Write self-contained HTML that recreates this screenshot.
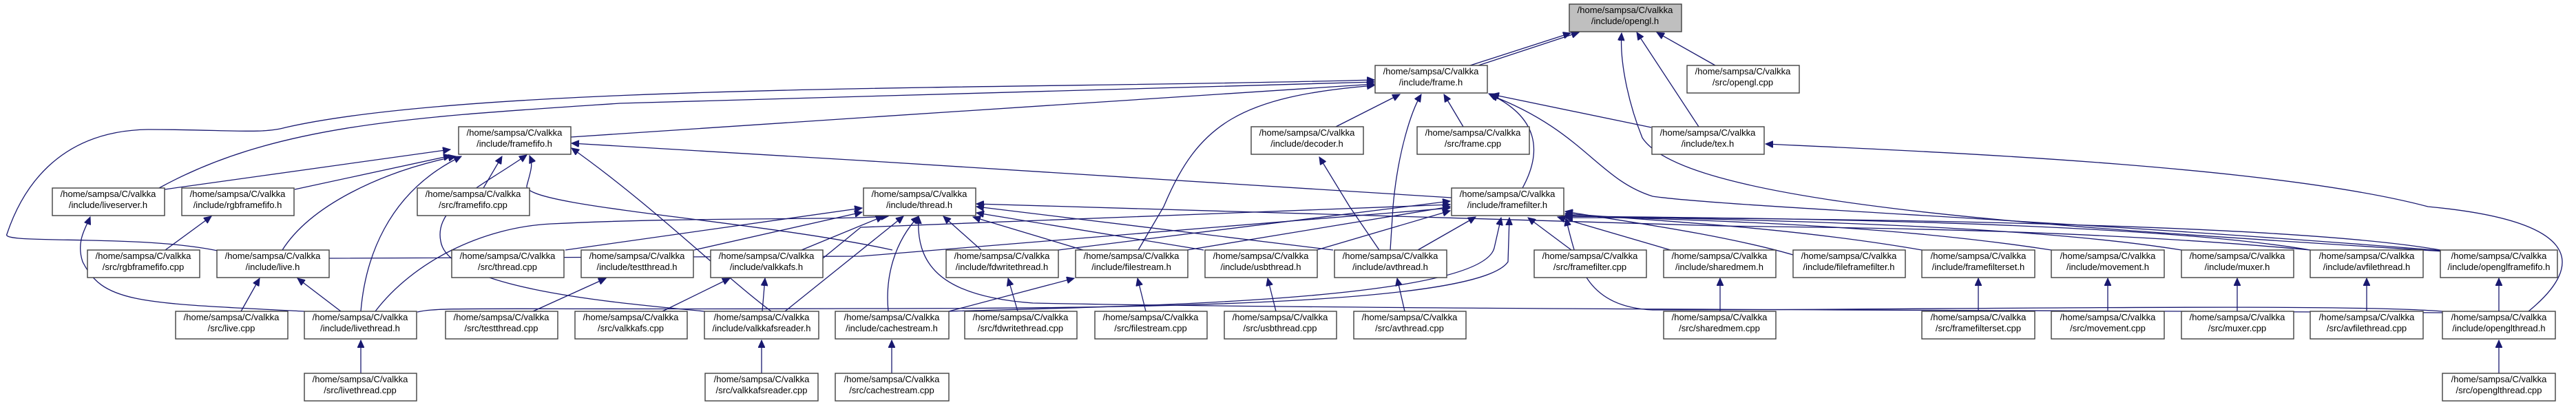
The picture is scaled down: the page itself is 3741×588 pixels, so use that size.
<!DOCTYPE html>
<html><head><meta charset="utf-8"><style>
html,body{margin:0;padding:0;background:#fff;}
svg{display:block;}
text{font-family:"Liberation Sans",sans-serif;font-size:13px;fill:#000;text-anchor:middle;}
.n rect{fill:#fff;stroke:#404040;stroke-width:1.4;}
.g rect{fill:#bfbfbf;}
path.e{fill:none;stroke:#191970;stroke-width:1.3;}
</style></head><body>
<svg width="3741" height="588" viewBox="0 0 3741 588" xmlns="http://www.w3.org/2000/svg">
<defs><marker id="a" markerUnits="userSpaceOnUse" markerWidth="12" markerHeight="10" refX="11" refY="5" orient="auto"><path d="M0,0 L11,5 L0,10 z" fill="#191970" stroke="#191970"/></marker></defs>
<g marker-end="url(#a)">
<!-- to opengl.h -->
<path class="e" d="M2135,95 L2281,48"/>
<path class="e" d="M2147,95 L2293,47"/>
<path class="e" d="M2491,95 L2406,47"/>
<path class="e" d="M2467,184 L2377,47"/>
<path class="e" d="M3550,365 C3000,330 2450,300 2385,200 C2365,150 2352,90 2355,48"/>
<path class="e" d="M3672,452 C3760,380 3740,320 3526,300 C3300,240 2800,220 2564,209"/>
<!-- to frame.h -->
<path class="e" d="M316,364 C200,340 0,355 10,340 C30,280 80,190 215,188 C330,188 380,195 415,185 C700,120 1500,130 1996,116"/>
<path class="e" d="M231,273 C400,180 600,170 900,150 L1996,119"/>
<path class="e" d="M829,199 L1250,171 L1996,122"/>
<path class="e" d="M1653,363 L1690,300 C1740,180 1800,140 1996,124"/>
<path class="e" d="M1940,184 L2033,137"/>
<path class="e" d="M2125,184 L2097,137"/>
<path class="e" d="M2398,185 L2166,137"/>
<path class="e" d="M2019,363 L2023,300 C2030,220 2050,160 2064,137"/>
<path class="e" d="M2211,273 C2240,220 2235,170 2162,136"/>
<path class="e" d="M3548,364 C3000,320 2500,300 2400,285 C2320,260 2300,190 2164,138"/>
<!-- to tex.h / decoder.h -->
<path class="e" d="M2003,363 L1960,300 L1916,228"/>
<!-- to framefifo.h -->
<path class="e" d="M239,275 L654,217"/>
<path class="e" d="M428,275 L655,226"/>
<path class="e" d="M702,273 L729,227"/>
<path class="e" d="M410,363 C450,300 550,250 662,227"/>
<path class="e" d="M524,452 C530,380 560,280 670,227"/>
<path class="e" d="M1023,452 C900,440 650,420 640,350 C630,300 700,270 765,225"/>
<path class="e" d="M2108,287 L1250,233 L830,208"/>
<path class="e" d="M1296,363 C1100,320 760,300 765,270 C770,250 775,240 769,226"/>
<path class="e" d="M1120,452 C1050,400 950,300 830,215"/>
<!-- to thread.h -->
<path class="e" d="M545,452 C600,380 700,330 800,325 C1000,315 1200,320 1290,314"/>
<path class="e" d="M821,363 L1252,302"/>
<path class="e" d="M1008,363 L1252,308"/>
<path class="e" d="M1164,363 L1283,314"/>
<path class="e" d="M1140,452 L1312,314"/>
<path class="e" d="M1290,452 C1285,400 1300,350 1334,314"/>
<path class="e" d="M1425,363 L1370,314"/>
<path class="e" d="M1573,363 L1413,315"/>
<path class="e" d="M1748,363 L1418,309"/>
<path class="e" d="M1936,363 L1418,300"/>
<path class="e" d="M3547,454 C3000,450 2000,450 1500,440 C1360,430 1330,380 1334,314"/>
<path class="e" d="M3355,363 C3000,330 2600,330 2500,328 L1418,296"/>
<path class="e" d="M1195,375 L1250,330 L2106,297"/>
<path class="e" d="M478,375 L1250,372 L2106,302"/>
<!-- to framefilter.h -->
<path class="e" d="M1537,363 L2106,292"/>
<path class="e" d="M1724,363 L2106,300"/>
<path class="e" d="M1912,363 L2106,306"/>
<path class="e" d="M2059,363 L2143,315"/>
<path class="e" d="M1378,452 C1600,445 2150,440 2170,360 L2180,316"/>
<path class="e" d="M606,453 C640,445 700,450 1250,448 C1700,448 2150,440 2190,380 L2192,316"/>
<path class="e" d="M2282,363 L2219,316"/>
<path class="e" d="M2426,363 L2262,315"/>
<path class="e" d="M2604,370 C2500,340 2350,320 2273,307"/>
<path class="e" d="M2791,363 C2600,330 2400,320 2273,310"/>
<path class="e" d="M2979,363 C2700,320 2400,320 2273,312"/>
<path class="e" d="M3168,363 C2900,320 2400,318 2273,313"/>
<path class="e" d="M3355,363 C3100,320 2500,316 2273,314"/>
<path class="e" d="M3544,363 C3300,320 2500,316 2273,316"/>
<path class="e" d="M3547,452 C3400,440 2800,450 2400,450 C2300,445 2290,380 2274,317"/>
<!-- simple vertical/local -->
<path class="e" d="M442,452 C200,440 150,440 120,380 C110,350 125,330 131,315"/>
<path class="e" d="M240,363 L307,314"/>
<path class="e" d="M350,452 L377,404"/>
<path class="e" d="M495,452 L432,404"/>
<path class="e" d="M774,452 L880,404"/>
<path class="e" d="M962,452 L1060,404"/>
<path class="e" d="M1107,452 L1111,404"/>
<path class="e" d="M524,542 L524,494"/>
<path class="e" d="M1106,542 L1106,494"/>
<path class="e" d="M1295,542 L1295,494"/>
<path class="e" d="M1378,452 L1560,404"/>
<path class="e" d="M1478,452 L1464,404"/>
<path class="e" d="M1664,452 L1652,404"/>
<path class="e" d="M1853,452 L1841,404"/>
<path class="e" d="M2040,452 L2029,404"/>
<path class="e" d="M2498,452 L2498,404"/>
<path class="e" d="M2873,452 L2873,404"/>
<path class="e" d="M3061,452 L3061,404"/>
<path class="e" d="M3249,452 L3249,404"/>
<path class="e" d="M3437,452 L3437,404"/>
<path class="e" d="M3629,452 L3629,404"/>
<path class="e" d="M3629,542 L3629,494"/>
</g>
<!-- nodes -->
<g class="n g"><rect x="2279" y="6" width="163" height="40"/><text x="2360" y="19">/home/sampsa/C/valkka</text><text x="2360" y="35">/include/opengl.h</text></g>
<g class="n"><rect x="1997" y="95" width="163" height="40"/><text x="2078" y="108">/home/sampsa/C/valkka</text><text x="2078" y="124">/include/frame.h</text></g>
<g class="n"><rect x="2450" y="95" width="163" height="40"/><text x="2531" y="108">/home/sampsa/C/valkka</text><text x="2531" y="124">/src/opengl.cpp</text></g>
<g class="n"><rect x="666" y="184" width="163" height="40"/><text x="747" y="197">/home/sampsa/C/valkka</text><text x="747" y="213">/include/framefifo.h</text></g>
<g class="n"><rect x="1817" y="184" width="163" height="40"/><text x="1898" y="197">/home/sampsa/C/valkka</text><text x="1898" y="213">/include/decoder.h</text></g>
<g class="n"><rect x="2058" y="184" width="163" height="40"/><text x="2139" y="197">/home/sampsa/C/valkka</text><text x="2139" y="213">/src/frame.cpp</text></g>
<g class="n"><rect x="2399" y="184" width="163" height="40"/><text x="2480" y="197">/home/sampsa/C/valkka</text><text x="2480" y="213">/include/tex.h</text></g>
<g class="n"><rect x="76" y="273" width="163" height="40"/><text x="157" y="286">/home/sampsa/C/valkka</text><text x="157" y="302">/include/liveserver.h</text></g>
<g class="n"><rect x="264" y="273" width="163" height="40"/><text x="345" y="286">/home/sampsa/C/valkka</text><text x="345" y="302">/include/rgbframefifo.h</text></g>
<g class="n"><rect x="606" y="273" width="163" height="40"/><text x="687" y="286">/home/sampsa/C/valkka</text><text x="687" y="302">/src/framefifo.cpp</text></g>
<g class="n"><rect x="1254" y="273" width="163" height="40"/><text x="1335" y="286">/home/sampsa/C/valkka</text><text x="1335" y="302">/include/thread.h</text></g>
<g class="n"><rect x="2108" y="273" width="163" height="40"/><text x="2189" y="286">/home/sampsa/C/valkka</text><text x="2189" y="302">/include/framefilter.h</text></g>
<g class="n"><rect x="127" y="363" width="163" height="40"/><text x="208" y="376">/home/sampsa/C/valkka</text><text x="208" y="392">/src/rgbframefifo.cpp</text></g>
<g class="n"><rect x="315" y="363" width="163" height="40"/><text x="396" y="376">/home/sampsa/C/valkka</text><text x="396" y="392">/include/live.h</text></g>
<g class="n"><rect x="656" y="363" width="163" height="40"/><text x="737" y="376">/home/sampsa/C/valkka</text><text x="737" y="392">/src/thread.cpp</text></g>
<g class="n"><rect x="844" y="363" width="163" height="40"/><text x="925" y="376">/home/sampsa/C/valkka</text><text x="925" y="392">/include/testthread.h</text></g>
<g class="n"><rect x="1032" y="363" width="163" height="40"/><text x="1113" y="376">/home/sampsa/C/valkka</text><text x="1113" y="392">/include/valkkafs.h</text></g>
<g class="n"><rect x="1374" y="363" width="163" height="40"/><text x="1455" y="376">/home/sampsa/C/valkka</text><text x="1455" y="392">/include/fdwritethread.h</text></g>
<g class="n"><rect x="1562" y="363" width="163" height="40"/><text x="1643" y="376">/home/sampsa/C/valkka</text><text x="1643" y="392">/include/filestream.h</text></g>
<g class="n"><rect x="1750" y="363" width="163" height="40"/><text x="1831" y="376">/home/sampsa/C/valkka</text><text x="1831" y="392">/include/usbthread.h</text></g>
<g class="n"><rect x="1938" y="363" width="163" height="40"/><text x="2019" y="376">/home/sampsa/C/valkka</text><text x="2019" y="392">/include/avthread.h</text></g>
<g class="n"><rect x="2228" y="363" width="163" height="40"/><text x="2309" y="376">/home/sampsa/C/valkka</text><text x="2309" y="392">/src/framefilter.cpp</text></g>
<g class="n"><rect x="2416" y="363" width="163" height="40"/><text x="2497" y="376">/home/sampsa/C/valkka</text><text x="2497" y="392">/include/sharedmem.h</text></g>
<g class="n"><rect x="2604" y="363" width="163" height="40"/><text x="2685" y="376">/home/sampsa/C/valkka</text><text x="2685" y="392">/include/fileframefilter.h</text></g>
<g class="n"><rect x="2791" y="363" width="164" height="40"/><text x="2873" y="376">/home/sampsa/C/valkka</text><text x="2873" y="392">/include/framefilterset.h</text></g>
<g class="n"><rect x="2979" y="363" width="164" height="40"/><text x="3061" y="376">/home/sampsa/C/valkka</text><text x="3061" y="392">/include/movement.h</text></g>
<g class="n"><rect x="3168" y="363" width="163" height="40"/><text x="3249" y="376">/home/sampsa/C/valkka</text><text x="3249" y="392">/include/muxer.h</text></g>
<g class="n"><rect x="3355" y="363" width="164" height="40"/><text x="3437" y="376">/home/sampsa/C/valkka</text><text x="3437" y="392">/include/avfilethread.h</text></g>
<g class="n"><rect x="3544" y="363" width="170" height="40"/><text x="3629" y="376">/home/sampsa/C/valkka</text><text x="3629" y="392">/include/openglframefifo.h</text></g>
<g class="n"><rect x="255" y="452" width="163" height="40"/><text x="336" y="465">/home/sampsa/C/valkka</text><text x="336" y="481">/src/live.cpp</text></g>
<g class="n"><rect x="442" y="452" width="163" height="40"/><text x="523" y="465">/home/sampsa/C/valkka</text><text x="523" y="481">/include/livethread.h</text></g>
<g class="n"><rect x="647" y="452" width="163" height="40"/><text x="728" y="465">/home/sampsa/C/valkka</text><text x="728" y="481">/src/testthread.cpp</text></g>
<g class="n"><rect x="835" y="452" width="163" height="40"/><text x="916" y="465">/home/sampsa/C/valkka</text><text x="916" y="481">/src/valkkafs.cpp</text></g>
<g class="n"><rect x="1023" y="452" width="166" height="40"/><text x="1106" y="465">/home/sampsa/C/valkka</text><text x="1106" y="481">/include/valkkafsreader.h</text></g>
<g class="n"><rect x="1213" y="452" width="165" height="40"/><text x="1295" y="465">/home/sampsa/C/valkka</text><text x="1295" y="481">/include/cachestream.h</text></g>
<g class="n"><rect x="1401" y="452" width="163" height="40"/><text x="1482" y="465">/home/sampsa/C/valkka</text><text x="1482" y="481">/src/fdwritethread.cpp</text></g>
<g class="n"><rect x="1590" y="452" width="163" height="40"/><text x="1671" y="465">/home/sampsa/C/valkka</text><text x="1671" y="481">/src/filestream.cpp</text></g>
<g class="n"><rect x="1778" y="452" width="163" height="40"/><text x="1859" y="465">/home/sampsa/C/valkka</text><text x="1859" y="481">/src/usbthread.cpp</text></g>
<g class="n"><rect x="1966" y="452" width="163" height="40"/><text x="2047" y="465">/home/sampsa/C/valkka</text><text x="2047" y="481">/src/avthread.cpp</text></g>
<g class="n"><rect x="2416" y="452" width="163" height="40"/><text x="2497" y="465">/home/sampsa/C/valkka</text><text x="2497" y="481">/src/sharedmem.cpp</text></g>
<g class="n"><rect x="2791" y="452" width="164" height="40"/><text x="2873" y="465">/home/sampsa/C/valkka</text><text x="2873" y="481">/src/framefilterset.cpp</text></g>
<g class="n"><rect x="2979" y="452" width="164" height="40"/><text x="3061" y="465">/home/sampsa/C/valkka</text><text x="3061" y="481">/src/movement.cpp</text></g>
<g class="n"><rect x="3168" y="452" width="163" height="40"/><text x="3249" y="465">/home/sampsa/C/valkka</text><text x="3249" y="481">/src/muxer.cpp</text></g>
<g class="n"><rect x="3355" y="452" width="164" height="40"/><text x="3437" y="465">/home/sampsa/C/valkka</text><text x="3437" y="481">/src/avfilethread.cpp</text></g>
<g class="n"><rect x="3547" y="452" width="164" height="40"/><text x="3629" y="465">/home/sampsa/C/valkka</text><text x="3629" y="481">/include/openglthread.h</text></g>
<g class="n"><rect x="442" y="542" width="163" height="40"/><text x="523" y="555">/home/sampsa/C/valkka</text><text x="523" y="571">/src/livethread.cpp</text></g>
<g class="n"><rect x="1024" y="542" width="164" height="40"/><text x="1106" y="555">/home/sampsa/C/valkka</text><text x="1106" y="571">/src/valkkafsreader.cpp</text></g>
<g class="n"><rect x="1213" y="542" width="165" height="40"/><text x="1295" y="555">/home/sampsa/C/valkka</text><text x="1295" y="571">/src/cachestream.cpp</text></g>
<g class="n"><rect x="3547" y="542" width="164" height="40"/><text x="3629" y="555">/home/sampsa/C/valkka</text><text x="3629" y="571">/src/openglthread.cpp</text></g>
</svg>
</body></html>
